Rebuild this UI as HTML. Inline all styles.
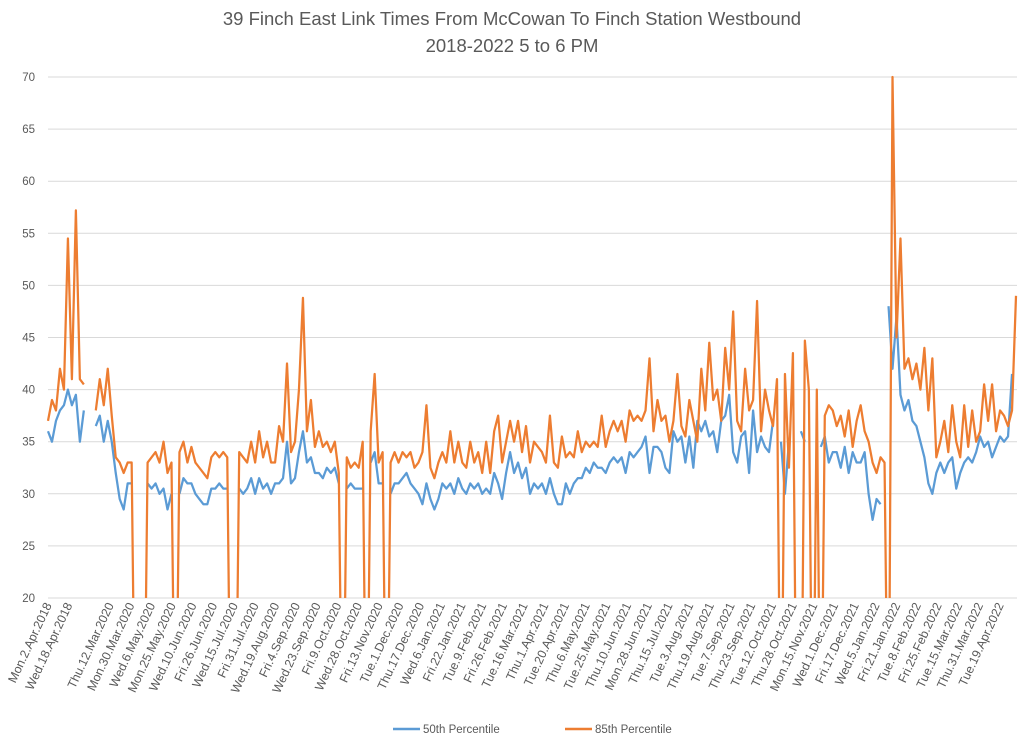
<!DOCTYPE html>
<html><head><meta charset="utf-8"><style>
html,body{margin:0;background:#fff;overflow:hidden;width:1024px;height:742px;}
svg{display:block;font-family:"Liberation Sans",sans-serif;}
</style></head><body>
<svg id="chart" width="1024" height="742">
<text x="512" y="25" text-anchor="middle" font-size="18.5" fill="#595959">39 Finch East Link Times From McCowan To Finch Station Westbound</text>
<text x="512" y="52" text-anchor="middle" font-size="18.5" fill="#595959">2018-2022 5 to 6 PM</text>
<g id="grid"></g>
<g id="ylabels"></g>
<g id="xlabels"></g>
<defs><clipPath id="pc"><rect x="40" y="60" width="984" height="538"/></clipPath></defs>
<g id="series" clip-path="url(#pc)"></g>
<g>
<line x1="393" y1="729" x2="420" y2="729" stroke="#5b9bd5" stroke-width="2.5"/>
<text x="423" y="733" font-size="11.5" fill="#595959">50th Percentile</text>
<line x1="565" y1="729" x2="592" y2="729" stroke="#ed7d31" stroke-width="2.5"/>
<text x="595" y="733" font-size="11.5" fill="#595959">85th Percentile</text>
</g>
</svg>
<script>
const yTicks=[20,25,30,35,40,45,50,55,60,65,70];
const xTickLabels=["Mon.2.Apr.2018","Wed.18.Apr.2018","","Thu.12.Mar.2020","Mon.30.Mar.2020","Wed.6.May.2020","Mon.25.May.2020","Wed.10.Jun.2020","Fri.26.Jun.2020","Wed.15.Jul.2020","Fri.31.Jul.2020","Wed.19.Aug.2020","Fri.4.Sep.2020","Wed.23.Sep.2020","Fri.9.Oct.2020","Wed.28.Oct.2020","Fri.13.Nov.2020","Tue.1.Dec.2020","Thu.17.Dec.2020","Wed.6.Jan.2021","Fri.22.Jan.2021","Tue.9.Feb.2021","Fri.26.Feb.2021","Tue.16.Mar.2021","Thu.1.Apr.2021","Tue.20.Apr.2021","Thu.6.May.2021","Tue.25.May.2021","Thu.10.Jun.2021","Mon.28.Jun.2021","Thu.15.Jul.2021","Tue.3.Aug.2021","Thu.19.Aug.2021","Tue.7.Sep.2021","Thu.23.Sep.2021","Tue.12.Oct.2021","Thu.28.Oct.2021","Mon.15.Nov.2021","Wed.1.Dec.2021","Fri.17.Dec.2021","Wed.5.Jan.2022","Fri.21.Jan.2022","Tue.8.Feb.2022","Fri.25.Feb.2022","Tue.15.Mar.2022","Thu.31.Mar.2022","Tue.19.Apr.2022"];
const p50=[36,35,37,38,38.5,40,38.5,39.5,35,38,null,null,
36.5,37.5,35,37,35,32,29.5,28.5,31,31,null,null,null,31,30.5,31,30,30.5,28.5,30,null,30,31.5,31,31,30,29.5,29,29,30.5,30.5,31,30.5,30.5,null,null,
30.5,30,30.5,31.5,30,31.5,30.5,31,30,31,31,31.5,35,31,31.5,34,36,33,33.5,32,32,31.5,32.5,32,32.5,31,null,30.5,31,30.5,30.5,30.5,null,33,34,31,31,null,
30,31,31,31.5,32,31,30.5,30,29,31,29.5,28.5,29.5,31,30.5,31,30,31.5,30.5,30,31,30.5,31,30,30.5,30,32,31,29.5,32,34,32,33,
31.5,32.5,30,31,30.5,31,30,31.5,30,29,29,31,30,31,31.5,31.5,32.5,32,33,32.5,32.5,32,33,33.5,33,33.5,32,34,33.5,34,34.5,35.5,32,34.5,34.5,34,32.5,32,36,35,35.5,33,35.5,32.5,37,36,37,35.5,36,34,37,37.5,39.5,34,33,35.5,36,32,38,34,
35.5,34.5,34,37,null,35,30,35,null,null,36,35,null,null,null,34.5,35.5,33,34,34,32.5,34.5,32,34,33,33,34,30,27.5,29.5,29,null,48,42,47,39.5,38,39,37,36.5,35,33.5,31,30,32,33,32,33,33.5,30.5,32,33,33.5,33,34,35.5,34.5,35,33.5,34.5,35.5,35,35.5,41.5];
const p85=[37,39,38,42,40,54.5,41,57.2,41,40.5,null,null,
38,41,38.5,42,37.5,33.5,33,32,33,33,0,0,0,33,33.5,34,33,35,32,33,0,34,35,33,34.5,33,32.5,32,31.5,33.5,34,33.5,34,33.5,0,0,
34,33.5,33,35,33,36,33.5,35,33,33,36.5,35,42.5,34,35,40,48.8,36,39,34.5,36,34.5,35,34,35,32,0,33.5,32.5,33,32.5,35,0,36,41.5,33,34,0,
33,34,33,34,33.5,34,32.5,33,34,38.5,32.5,31.5,33,34,33,36,33,35,33,32.5,35,33,34,32,35,32,36,37.5,33,35,37,35,37,
34,36.5,33,35,34.5,34,33,37.5,33,32.5,35.5,33.5,34,33.5,36,34,35,34.5,35,34.5,37.5,34.5,36,37,36,37,35,38,37,37.5,37,38,43,36,39,37,37.5,35,37,41.5,36.5,35.5,39,37,35,42,38,44.5,39,40,37,44,40,47.5,37,36,42,38,39,48.5,36,
40,38,36.5,41,0,41.5,32.5,43.5,0,0,44.7,40,0,40,0,37.5,38.5,38,36.5,37.5,35.5,38,34.5,37,38.5,36,35,33,32,33.5,33,0,70,45,54.5,42,43,41,42.5,40,44,38,43,33.5,35,37,34,38.5,35,33.5,38.5,34.5,38,35,36,40.5,37,40.5,36,38,37.5,36.5,38,49];

const X0=48,X1=1016,Y20=598,Y70=77;
const N=p85.length;
function xPos(i){return X0+(X1-X0)*i/(N-1);}
function yPos(v){return Y20-(v-20)*(Y20-Y70)/50;}
const NS="http://www.w3.org/2000/svg";
const grid=document.getElementById('grid'),yl=document.getElementById('ylabels'),xl=document.getElementById('xlabels'),ser=document.getElementById('series');
yTicks.forEach(t=>{
 const l=document.createElementNS(NS,'line');
 l.setAttribute('x1',X0);l.setAttribute('x2',1017);l.setAttribute('y1',yPos(t));l.setAttribute('y2',yPos(t));
 l.setAttribute('stroke','#d9d9d9');l.setAttribute('stroke-width','1');
 
 
 grid.appendChild(l);
 const tx=document.createElementNS(NS,'text');
 tx.setAttribute('x',35);tx.setAttribute('y',yPos(t)+4);tx.setAttribute('text-anchor','end');
 tx.setAttribute('font-size','11.5');tx.setAttribute('fill','#595959');tx.textContent=t;
 
 
 yl.appendChild(tx);
});
const labelStep=(N-5)/(xTickLabels.length-1);
xTickLabels.forEach((s,k)=>{
 const x=xPos(k*labelStep)+4,y=605;
 const tx=document.createElementNS(NS,'text');
 tx.setAttribute('transform','translate('+x+','+y+') rotate(-65)');
 tx.setAttribute('text-anchor','end');tx.setAttribute('font-size','12.3');tx.setAttribute('fill','#595959');
 tx.textContent=s;
 
 
 xl.appendChild(tx);
});
function drawSeries(arr,color,name){
 let d='',pen=false;
 arr.forEach((v,i)=>{
  if(v===null){pen=false;return;}
  d+=(pen?'L':'M')+xPos(i).toFixed(2)+','+yPos(v).toFixed(2);pen=true;
 });
 const p=document.createElementNS(NS,'path');
 p.setAttribute('d',d);p.setAttribute('fill','none');p.setAttribute('stroke',color);
 p.setAttribute('stroke-width','2.25');p.setAttribute('stroke-linejoin','round');
 
 
 ser.appendChild(p);
}
drawSeries(p50,'#5b9bd5','series-50th-percentile');
drawSeries(p85,'#ed7d31','series-85th-percentile');
</script>
</body></html>
